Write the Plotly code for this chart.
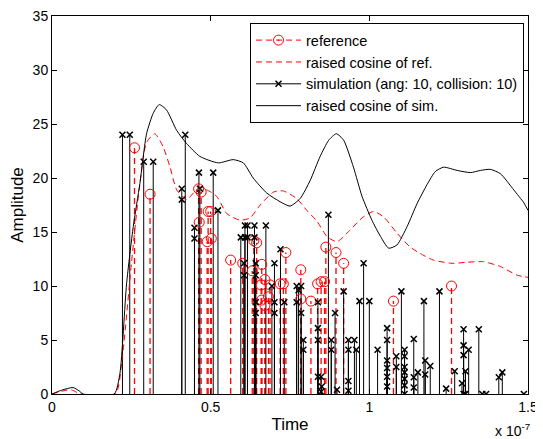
import plotly.graph_objects as go

# x values in units of 1e-7 s
ref_x = [0.260, 0.309, 0.462, 0.464, 0.470, 0.489, 0.492, 0.500, 0.502, 0.563, 0.601, 0.631, 0.636,
         0.645, 0.659, 0.661, 0.661, 0.671, 0.671, 0.682, 0.687, 0.719, 0.729, 0.737, 0.784, 0.784,
         0.816, 0.837, 0.848, 0.859, 0.863, 0.895, 0.919, 1.076, 1.259]
ref_y = [22.8, 18.5, 19.0, 15.9, 18.7, 14.1, 16.9, 16.9, 14.4, 12.4, 12.1, 11.4, 14.2,
         14.0, 10.1, 12.0, 8.7, 10.6, 8.2, 9.0, 10.1, 10.2, 10.2, 13.1, 11.5, 8.8,
         8.6, 10.2, 10.4, 10.4, 13.6, 13.1, 12.1, 8.6, 10.0]

sim_x = [0.222, 0.245, 0.289, 0.319, 0.409, 0.409, 0.420, 0.449, 0.449, 0.463, 0.466, 0.508, 0.523,
         0.595, 0.605, 0.605, 0.608, 0.608, 0.616, 0.616, 0.638, 0.638, 0.642, 0.642, 0.642, 0.642,
         0.674, 0.693, 0.701, 0.701, 0.701, 0.720, 0.732, 0.771, 0.771, 0.777, 0.785, 0.785, 0.792,
         0.792, 0.838, 0.838, 0.838, 0.838, 0.848, 0.848, 0.850, 0.871, 0.880, 0.880, 0.892, 0.898,
         0.919, 0.934, 0.934, 0.934, 0.934, 0.953, 0.959, 0.969, 0.982, 1.000, 1.026, 1.056, 1.056,
         1.056, 1.056, 1.056, 1.056, 1.085, 1.085, 1.101, 1.111, 1.111, 1.111, 1.111, 1.111, 1.111,
         1.111, 1.140, 1.140, 1.140, 1.153, 1.172, 1.176, 1.176, 1.192, 1.221, 1.242, 1.269, 1.292,
         1.297, 1.297, 1.297, 1.297, 1.303, 1.303, 1.313, 1.345, 1.356, 1.368, 1.408, 1.419, 1.487]
sim_y = [24.0, 24.0, 21.5, 21.5, 19.0, 18.0, 24.0, 15.4, 14.4, 20.5, 19.0, 20.5, 17.0,
         14.5, 12.1, 11.0, 15.6, 14.5, 15.6, 14.5, 15.6, 14.5, 12.1, 11.0, 8.5, 7.5,
         15.6, 10.0, 12.1, 8.5, 7.5, 13.4, 8.5, 10.0, 8.5, 9.6, 10.0, 7.5, 5.0,
         4.1, 8.5, 6.1, 5.0, 1.6, 1.6, 0.2, 0.7, 16.6, 5.0, 4.1, 7.5, 0.4,
         9.5, 5.0, 4.1, 1.2, 0.3, 5.0, 4.1, 8.6, 12.1, 8.6, 4.1, 6.1, 5.0,
         3.1, 2.4, 1.6, 0.7, 3.5, 2.5, 9.5, 4.1, 3.5, 2.5, 2.0, 1.4, 0.8,
         0.0, 5.1, 1.55, 0.6, 2.0, 8.6, 3.1, 1.8, 2.6, 9.5, 0.5, 2.1, 1.0,
         6.0, 4.5, 3.6, 0.0, 2.1, 0.0, 4.1, 6.0, 0.0, 0.0, 1.55, 2.0, 0.0]

ref_rc_x = [0, 0.03, 0.06, 0.09, 0.2, 0.22, 0.25, 0.275, 0.298, 0.324, 0.350, 0.372, 0.393, 0.424,
            0.456, 0.487, 0.519, 0.551, 0.592, 0.624, 0.656, 0.698, 0.729, 0.771, 0.803, 0.835,
            0.866, 0.898, 0.940, 0.977, 1.013, 1.045, 1.087, 1.129, 1.161, 1.202, 1.261, 1.308,
            1.360, 1.413, 1.466, 1.5]
ref_rc_y = [0, 0.25, 0.4, 0, 0, 3, 12, 19, 23.3, 24.1, 22.9, 21.0, 18.9, 18.0,
            18.9, 18.9, 18.3, 16.7, 16.1, 16.3, 17.5, 18.7, 18.8, 18.1, 17.0, 16.0,
            14.6, 14.1, 15.2, 16.3, 16.9, 16.4, 14.9, 13.6, 13.0, 12.4, 12.1, 12.2,
            12.25, 11.8, 11.0, 10.8]

sim_rc_x = [0, 0.03, 0.066, 0.085, 0.098, 0.196, 0.214, 0.235, 0.256, 0.277, 0.298, 0.319, 0.338,
            0.361, 0.393, 0.424, 0.466, 0.524, 0.571, 0.603, 0.634, 0.677, 0.719, 0.750, 0.782,
            0.814, 0.845, 0.872, 0.896, 0.919, 0.950, 0.977, 1.008, 1.035, 1.061, 1.087, 1.119,
            1.150, 1.182, 1.208, 1.234, 1.277, 1.319, 1.350, 1.381, 1.413, 1.455, 1.487, 1.5]
sim_rc_y = [0, 0.35, 0.6, 0.3, 0, 0, 1.9, 10.2, 15.5, 19.5, 24.1, 26.0, 26.8,
            26.3, 24.4, 23.2, 22.0, 21.4, 21.7, 21.4, 20.0, 18.6, 17.8, 17.4, 18.1,
            19.8, 22.0, 23.5, 24.1, 23.5, 21.0, 18.3, 16.1, 14.6, 13.5, 13.8, 15.5,
            17.6, 19.4, 20.6, 21.0, 20.7, 20.5, 20.7, 20.8, 20.4, 18.9, 17.7, 17.0]

x_ticks = [0, 0.5, 1, 1.5]
x_tick_text = ["0", "0.5", "1", "1.5"]
y_ticks = [0, 5, 10, 15, 20, 25, 30, 35]

RED = "rgb(255,0,0)"
BLACK = "rgb(0,0,0)"
DASH = "6px,4px"
FONT = "Liberation Sans, Arial, sans-serif"
FS = 14


def stem_lines(xs, ys):
    lx, ly = [], []
    for x, y in zip(xs, ys):
        lx += [x, x, None]
        ly += [0, y, None]
    return lx, ly


fig = go.Figure()

rlx, rly = stem_lines(ref_x, ref_y)
fig.add_trace(go.Scatter(x=rlx, y=rly, mode="lines", line=dict(color=RED, width=1.3, dash=DASH),
                         showlegend=False, hoverinfo="skip"))
slx, sly = stem_lines(sim_x, sim_y)
fig.add_trace(go.Scatter(x=slx, y=sly, mode="lines", line=dict(color=BLACK, width=1),
                         showlegend=False, hoverinfo="skip"))
fig.add_trace(go.Scatter(x=ref_x, y=ref_y, mode="markers",
                         marker=dict(symbol="circle-open", size=10, color=RED, line=dict(width=1)),
                         showlegend=False))
fig.add_trace(go.Scatter(x=sim_x, y=sim_y, mode="markers",
                         marker=dict(symbol="x-thin-open", size=6, color=BLACK, line=dict(width=1.5, color=BLACK)),
                         showlegend=False))

fig.add_trace(go.Scatter(x=ref_rc_x, y=ref_rc_y, mode="lines", name="raised cosine of ref.",
                         line=dict(color=RED, width=1, dash=DASH, shape="spline", smoothing=0.6),
                         legendrank=2))
fig.add_trace(go.Scatter(x=sim_rc_x, y=sim_rc_y, mode="lines", name="raised cosine of sim.",
                         line=dict(color=BLACK, width=1, shape="spline", smoothing=0.6),
                         legendrank=4))

fig.add_trace(go.Scatter(x=[None], y=[None], mode="lines+markers", name="reference",
                         line=dict(color=RED, width=1, dash=DASH),
                         marker=dict(symbol="circle-open-dot", size=10, color=RED), legendrank=1))
fig.add_trace(go.Scatter(x=[None], y=[None], mode="lines+markers",
                         name="simulation (ang: 10, collision: 10)",
                         line=dict(color=BLACK, width=1),
                         marker=dict(symbol="x-thin-open", size=6, color=BLACK,
                                     line=dict(width=1.5, color=BLACK)), legendrank=3))

# the page body adds an 8px offset, so the figure is 8px smaller and margins shifted
fig.update_layout(
    width=535, height=431,
    margin=dict(l=44, r=15, t=8, b=45),
    paper_bgcolor="white", plot_bgcolor="white",
    font=dict(family=FONT, size=FS, color=BLACK),
    showlegend=True,
    legend=dict(x=0.416, y=0.981, xanchor="left", yanchor="top",
                bgcolor="white", bordercolor=BLACK, borderwidth=1,
                font=dict(size=14.5), tracegroupgap=0, itemwidth=45),
    xaxis=dict(range=[0, 1.5], tickvals=x_ticks, ticktext=x_tick_text,
               ticks="inside", ticklen=5, tickcolor=BLACK,
               showline=True, linecolor=BLACK, linewidth=1, mirror="ticks",
               showgrid=False, zeroline=False, automargin=False, ticklabelstandoff=0,
               ticklabeloverflow="allow",
               title=dict(text="Time", standoff=4)),
    yaxis=dict(range=[0, 35], tickvals=y_ticks,
               ticks="inside", ticklen=5, tickcolor=BLACK,
               showline=True, linecolor=BLACK, linewidth=1, mirror="ticks",
               showgrid=False, zeroline=False, automargin=False,
               ticklabeloverflow="allow",
               title=dict(text="Amplitude", standoff=8)),
    annotations=[dict(text="x 10<sup>-7</sup>", xref="paper", yref="paper",
                      x=1.0084, y=-0.095, xanchor="right", yanchor="middle",
                      showarrow=False, font=dict(size=FS))],
)

fig.write_html("out.html")
